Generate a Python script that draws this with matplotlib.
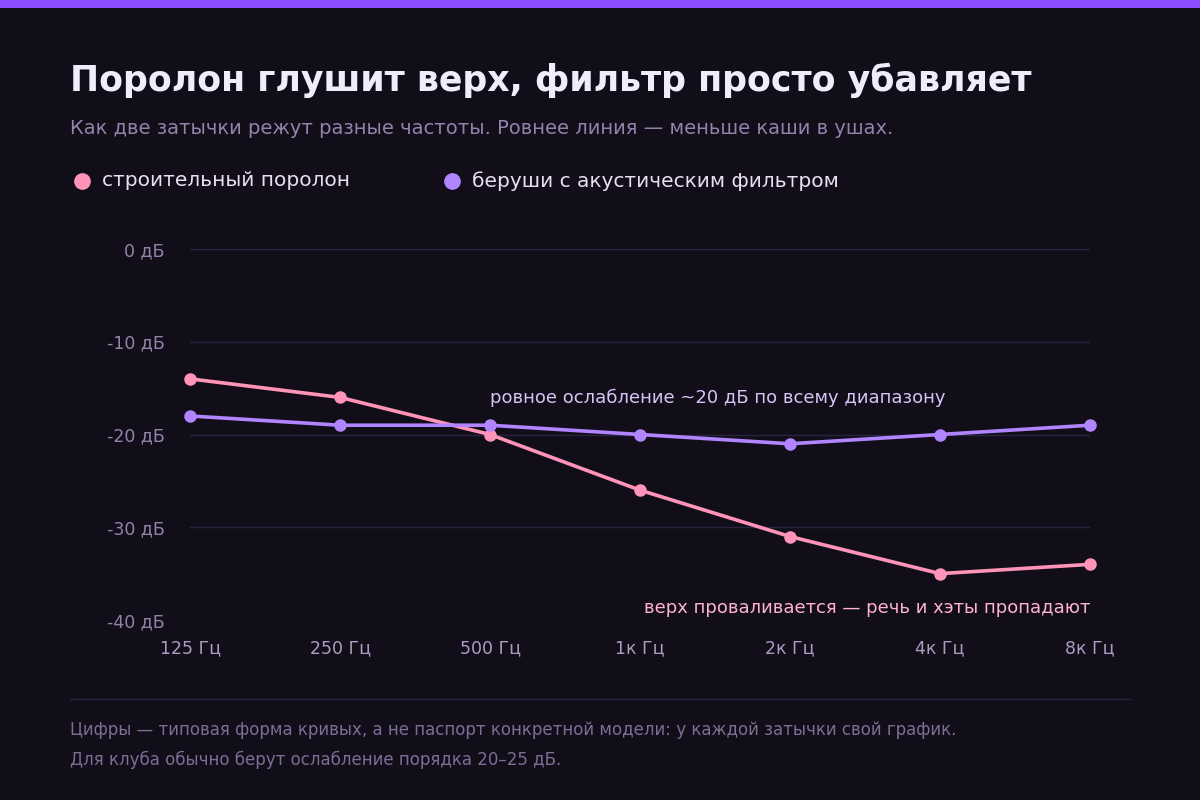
import matplotlib
matplotlib.use("Agg")
import matplotlib.pyplot as plt
from matplotlib.lines import Line2D
from matplotlib.patches import Rectangle

freqs = ["125 Гц", "250 Гц", "500 Гц", "1к Гц", "2к Гц", "4к Гц", "8к Гц"]
foam = [-14, -16, -20, -26, -31, -35, -34]
filtered = [-18, -19, -19, -20, -21, -20, -19]
y_ticks = [0, -10, -20, -30, -40]

BG = "#110e1a"
PINK = "#ff94b8"
VIOLET = "#b085ff"
GRID = "#2a2340"
MUTED = "#8f84aa"

plt.rcParams["font.family"] = ["DejaVu Sans"]
fig = plt.figure(figsize=(12, 8), dpi=100, facecolor=BG)

# top accent bar
fig.add_artist(Rectangle((0, 1 - 8 / 800), 1, 8 / 800, transform=fig.transFigure,
                         color="#8c4dff", lw=0))

fig.text(70 / 1200, 1 - 80 / 800, "Поролон глушит верх, фильтр просто убавляет",
         color="#f1ecfb", fontsize=25, fontweight="bold", va="center")
fig.text(70 / 1200, 1 - 128 / 800,
         "Как две затычки режут разные частоты. Ровнее линия — меньше каши в ушах.",
         color=MUTED, fontsize=14, va="center")

# legend
for x, col, label in [(82, PINK, "строительный поролон"),
                      (452, VIOLET, "беруши с акустическим фильтром")]:
    fig.add_artist(Line2D([x / 1200], [1 - 181 / 800], marker="o", markersize=11,
                          color=col, transform=fig.transFigure, lw=0))
    fig.text((x + 20) / 1200, 1 - 181 / 800, label, color="#e9def5",
             fontsize=14.5, va="center")

ax = fig.add_axes([190 / 1200, 1 - 620 / 800, 900 / 1200, 371 / 800])
ax.set_facecolor(BG)
x = list(range(len(freqs)))
ax.plot(x, foam, color=PINK, lw=2.6, marker="o", markersize=8, clip_on=False, zorder=3)
ax.plot(x, filtered, color=VIOLET, lw=2.6, marker="o", markersize=8, clip_on=False, zorder=3)
ax.set_xlim(0, 6)
ax.set_ylim(-40, 0)
ax.set_yticks(y_ticks, labels=[f"{v} дБ" for v in y_ticks])
ax.set_xticks(x, labels=freqs)
for v in y_ticks:
    ax.axhline(v, color=GRID, lw=1, zorder=1)
for s in ax.spines.values():
    s.set_visible(False)
ax.tick_params(length=0, colors=MUTED, labelsize=12.5)
ax.tick_params(axis="x", pad=14, colors="#a99ec2")
ax.tick_params(axis="y", pad=18)

ax.text(2, -16, "ровное ослабление ~20 дБ по всему диапазону", color="#d6c4f5",
        fontsize=13, va="center", ha="left")
ax.text(6, -38.7, "верх проваливается — речь и хэты пропадают", color="#ffb3cc",
        fontsize=13, va="center", ha="right")

fig.add_artist(Line2D([70 / 1200, 1130 / 1200], [1 - 699 / 800] * 2, color=GRID,
                      lw=1, transform=fig.transFigure))
fig.text(70 / 1200, 1 - 730 / 800,
         "Цифры — типовая форма кривых, а не паспорт конкретной модели: у каждой затычки свой график.",
         color="#7a6f94", fontsize=12, va="center")
fig.text(70 / 1200, 1 - 760 / 800,
         "Для клуба обычно берут ослабление порядка 20–25 дБ.",
         color="#7a6f94", fontsize=12, va="center")

fig.savefig("out.png", dpi=100, facecolor=BG)
